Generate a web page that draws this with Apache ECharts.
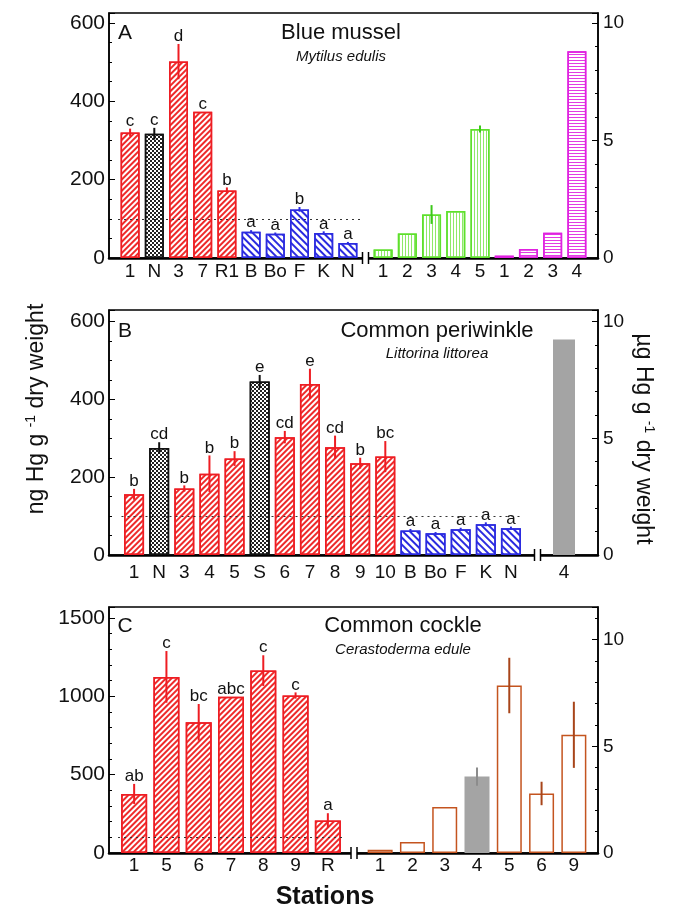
<!DOCTYPE html>
<html>
<head>
<meta charset="utf-8">
<script src="https://cdn.jsdelivr.net/npm/echarts@6/dist/echarts.min.js"></script>
<style>
  html, body { margin: 0; padding: 0; background: #fff; }
  #chart { width: 680px; height: 910px; }
</style>
</head>
<body>
<div id="chart"></div>
<script>
// A: blue mussel (ng/g on left part, ug/g on right part)
const aLeftCats = ['1', 'N', '3', '7', 'R1', 'B', 'Bo', 'F', 'K', 'N']
const aLeftVals = [320, 317, 501, 373, 172, 67, 62, 124, 64, 38]
const aLeftErr = [10, 15, 45, 0, 8, 4, 3, 6, 4, 3]
const aLeftSig = ['c', 'c', 'd', 'c', 'b', 'a', 'a', 'b', 'a', 'a']
const aLeftType = ['site', 'ref', 'site', 'site', 'site', 'far', 'far', 'far', 'far', 'far']
const aRightCats = ['1', '2', '3', '4', '5', '1', '2', '3', '4']
const aRightVals = [0.36, 1.04, 1.85, 2.0, 5.49, 0.1, 0.38, 1.07, 8.79]
const aRightErr = [0, 0, 0.4, 0, 0.15, 0, 0, 0, 0]
const aRightType = ['hotA', 'hotA', 'hotA', 'hotA', 'hotA', 'hotB', 'hotB', 'hotB', 'hotB']

// B: common periwinkle
const bLeftCats = ['1', 'N', '3', '4', '5', 'S', '6', '7', '8', '9', '10', 'B', 'Bo', 'F', 'K', 'N']
const bLeftVals = [156, 275, 171, 209, 248, 446, 303, 440, 277, 236, 253, 63, 56, 66, 79, 69]
const bLeftErr = [14, 15, 8, 47, 19, 17, 16, 39, 30, 14, 40, 4, 3, 4, 5, 4]
const bLeftSig = ['b', 'cd', 'b', 'b', 'b', 'e', 'cd', 'e', 'cd', 'b', 'bc', 'a', 'a', 'a', 'a', 'a']
const bLeftType = ['site', 'ref', 'site', 'site', 'site', 'ref', 'site', 'site', 'site', 'site', 'site', 'far', 'far', 'far', 'far', 'far']
const bRightCats = ['4']
const bRightVals = [9.24]
const bRightErr = [0]
const bRightType = ['gray']

// C: common cockle
const cLeftCats = ['1', '5', '6', '7', '8', '9', 'R']
const cLeftVals = [377, 1124, 834, 998, 1164, 1005, 208]
const cLeftErr = [64, 165, 117, 0, 98, 20, 46]
const cLeftSig = ['ab', 'c', 'bc', 'abc', 'c', 'c', 'a']
const cLeftType = ['site', 'site', 'site', 'site', 'site', 'site', 'site']
const cRightCats = ['1', '2', '3', '4', '5', '6', '9']
const cRightVals = [0.15, 0.52, 2.16, 3.58, 7.85, 2.79, 5.54]
const cRightErr = [0, 0, 0, 0.43, 1.3, 0.55, 1.55]
const cRightType = ['open', 'open', 'open', 'gray', 'open', 'open', 'open']

const FONT = 'Liberation Sans, Arial, Helvetica, sans-serif'

const typeStyle = {
  site: { fill: '#fff', border: '#ee1d23', err: '#ee1d23',
    decal: { symbol: 'rect', symbolSize: 1, color: '#ee2a2a', dashArrayX: [1, 0], dashArrayY: [1.3, 1.9], rotation: -Math.PI / 4 } },
  ref: { fill: '#fff', border: '#111', err: '#111',
    decal: { symbol: 'rect', symbolSize: 1, color: '#222', dashArrayX: [[2, 2], [0, 2, 2, 0]], dashArrayY: [2, 0] } },
  far: { fill: '#fff', border: '#2b2be0', err: '#2b2be0',
    decal: { symbol: 'rect', symbolSize: 1, color: '#2b2be0', dashArrayX: [1, 0], dashArrayY: [1.5, 2.5], rotation: Math.PI / 4 } },
  hotA: { fill: '#fff', border: '#5ee02c', err: '#3cc81a',
    decal: { symbol: 'rect', symbolSize: 1, color: '#8fe86a', dashArrayX: [1, 2], dashArrayY: [1, 0] } },
  hotB: { fill: '#fff', border: '#e021e0', err: '#e021e0',
    decal: { symbol: 'rect', symbolSize: 1, color: '#e33ce3', dashArrayX: [1, 0], dashArrayY: [1, 2] } },
  gray: { fill: '#a4a4a4', border: '#a4a4a4', err: '#8c8c8c', decal: null },
  open: { fill: '#fff', border: '#c4541f', err: '#a8451a', decal: null }
}

const panels = [
  {
    top: 13, height: 245, leftMax: 625, leftStep: 200, leftMinor: 4, rightMax: 10.42, rightStep: 5,
    labelMargin: 4, breakX: 365.5, refLine: 100,
    letter: 'A', title: 'Blue mussel', latin: 'Mytilus edulis', titleX: 341, titleY: 33, latinY: 57,
    L: { cats: aLeftCats, vals: aLeftVals, err: aLeftErr, sig: aLeftSig, type: aLeftType, left: 118, width: 242, barWidth: 19 },
    R: { cats: aRightCats, vals: aRightVals, err: aRightErr, sig: null, type: aRightType, left: 371, width: 218, barWidth: 19 }
  },
  {
    top: 310, height: 245, leftMax: 630, leftStep: 200, leftMinor: 4, rightMax: 10.5, rightStep: 5,
    labelMargin: 8, breakX: 537.5, refLine: 100,
    letter: 'B', title: 'Common periwinkle', latin: 'Littorina littorea', titleX: 437, titleY: 331, latinY: 354,
    L: { cats: bLeftCats, vals: bLeftVals, err: bLeftErr, sig: bLeftSig, type: bLeftType, left: 121.5, width: 402, barWidth: 20 },
    R: { cats: bRightCats, vals: bRightVals, err: bRightErr, sig: null, type: bRightType, left: 551.5, width: 25, barWidth: 22 }
  },
  {
    top: 607, height: 246, leftMax: 1570, leftStep: 500, leftMinor: 5, rightMax: 11.53, rightStep: 5,
    labelMargin: 3, breakX: 354, refLine: 100,
    letter: 'C', title: 'Common cockle', latin: 'Cerastoderma edule', titleX: 403, titleY: 626, latinY: 650,
    L: { cats: cLeftCats, vals: cLeftVals, err: cLeftErr, sig: cLeftSig, type: cLeftType, left: 118, width: 226, barWidth: 26 },
    R: { cats: cRightCats, vals: cRightVals, err: cRightErr, sig: null, type: cRightType, left: 364, width: 226, barWidth: 25 }
  }
]

const FRAME_LEFT = 109
const FRAME_WIDTH = 489

const grid = []
const xAxis = []
const yAxis = []
const series = []
const graphic = []

const tickFormatter = (step) => (v) => (Math.abs(v / step - Math.round(v / step)) < 1e-6 ? String(Math.round(v)) : '')

const frameY = (max, step, minor, pos, fontSize, margin) => ({
  type: 'value', position: pos, min: 0, max: max, interval: step,
  axisLine: { show: true, lineStyle: { color: '#000', width: 1.5 } },
  axisTick: { show: true, inside: true, length: 6, lineStyle: { color: '#000', width: 1 } },
  minorTick: { show: true, splitNumber: minor, length: 3, lineStyle: { color: '#000', width: 1 } },
  axisLabel: { color: '#111', fontSize: fontSize, fontFamily: FONT, margin: margin, formatter: tickFormatter(step) },
  splitLine: { show: false },
  minorSplitLine: { show: false }
})

const addPart = (part, p, side, withRef) => {
  const gi = grid.length
  grid.push({ left: part.left, width: part.width, top: p.top, height: p.height, outerBoundsMode: 'none' })
  xAxis.push({
    type: 'category', gridIndex: gi, data: part.cats,
    axisLine: { show: false }, axisTick: { show: false },
    axisLabel: { color: '#111', fontSize: 19, fontFamily: FONT, margin: p.labelMargin, interval: 0 }
  })
  const yi = yAxis.length
  yAxis.push({ type: 'value', gridIndex: gi, show: false, min: 0, max: side === 'L' ? p.leftMax : p.rightMax })
  const xi = xAxis.length - 1

  const types = [...new Set(part.type)]
  types.forEach((t, k) => {
    const st = typeStyle[t]
    const s = {
      type: 'bar', xAxisIndex: xi, yAxisIndex: yi,
      barWidth: part.barWidth, barGap: '-100%',
      data: part.vals.map((v, i) => (part.type[i] === t ? v : '-')),
      itemStyle: { color: st.fill, borderColor: st.border, borderWidth: 1.5 },
      emphasis: { disabled: true },
      z: 2
    }
    if (st.decal) s.itemStyle.decal = st.decal
    if (withRef && k === 0) {
      s.markLine = {
        silent: true, symbol: 'none', animation: false,
        label: { show: false },
        lineStyle: { type: [2, 4], color: '#333', width: 1.2 },
        data: [{ yAxis: p.refLine }]
      }
    }
    series.push(s)
  })

  series.push({
    type: 'custom', xAxisIndex: xi, yAxisIndex: yi, z: 4, silent: true,
    data: part.vals.map((v, i) => [i, v, part.err[i]]),
    renderItem: (params, api) => {
      const i = params.dataIndex
      const v = api.value(1)
      const e = api.value(2)
      const hi = api.coord([i, v + e])
      const lo = api.coord([i, Math.max(v - e, 0)])
      const children = []
      if (e > 0) {
        children.push({
          type: 'line',
          shape: { x1: hi[0], y1: hi[1], x2: lo[0], y2: lo[1] },
          style: { stroke: typeStyle[part.type[i]].err, lineWidth: 2 }
        })
      }
      if (part.sig && part.sig[i]) {
        children.push({
          type: 'text',
          style: {
            text: part.sig[i], x: hi[0], y: hi[1] + 1, align: 'center', verticalAlign: 'bottom',
            font: '17px ' + FONT, fill: '#111'
          }
        })
      }
      return { type: 'group', children: children }
    }
  })
}

panels.forEach((p) => {
  // frame grid carrying both value axes
  const fi = grid.length
  grid.push({
    left: FRAME_LEFT, width: FRAME_WIDTH, top: p.top, height: p.height,
    show: true, borderColor: '#000', borderWidth: 1.5, backgroundColor: 'transparent', outerBoundsMode: 'none'
  })
  xAxis.push({
    type: 'value', gridIndex: fi, min: 0, max: 1,
    axisLine: { show: true, onZero: false, lineStyle: { color: '#000', width: 2.5 } },
    axisTick: { show: false }, axisLabel: { show: false }, splitLine: { show: false }
  })
  yAxis.push(Object.assign(frameY(p.leftMax, p.leftStep, p.leftMinor, 'left', 21, 4), { gridIndex: fi }))
  yAxis.push(Object.assign(frameY(p.rightMax, p.rightStep, 5, 'right', 19, 5), { gridIndex: fi }))

  addPart(p.L, p, 'L', true)
  addPart(p.R, p, 'R', false)

  const base = p.top + p.height
  graphic.push(
    { type: 'rect', z: 100, shape: { x: p.breakX - 3, y: base - 3, width: 6, height: 6 }, style: { fill: '#fff' } },
    { type: 'line', z: 101, shape: { x1: p.breakX - 3, y1: base - 6, x2: p.breakX - 3, y2: base + 6 }, style: { stroke: '#000', lineWidth: 1.5 } },
    { type: 'line', z: 101, shape: { x1: p.breakX + 3, y1: base - 6, x2: p.breakX + 3, y2: base + 6 }, style: { stroke: '#000', lineWidth: 1.5 } },
    { type: 'text', z: 100, x: 125, y: p.titleY, style: { text: p.letter, font: '21px ' + FONT, fill: '#111', align: 'center', verticalAlign: 'middle' } },
    { type: 'text', z: 100, x: p.titleX, y: p.titleY, style: { text: p.title, font: '22px ' + FONT, fill: '#111', align: 'center', verticalAlign: 'middle' } },
    { type: 'text', z: 100, x: p.titleX, y: p.latinY, style: { text: p.latin, font: 'italic 15px ' + FONT, fill: '#111', align: 'center', verticalAlign: 'middle' } }
  )
})

graphic.push(
  {
    type: 'text', z: 100, x: 37, y: 409, rotation: Math.PI / 2,
    style: {
      text: 'ng Hg g {sup|-1} dry weight', font: '23px ' + FONT, fill: '#111', align: 'center', verticalAlign: 'middle',
      rich: { sup: { fontSize: 14, fontFamily: FONT, verticalAlign: 'top', lineHeight: 26, padding: [0, 0, 12, 0] } }
    }
  },
  {
    type: 'text', z: 100, x: 643, y: 439, rotation: -Math.PI / 2,
    style: {
      text: 'µg Hg g {sup|-1} dry weight', font: '23px ' + FONT, fill: '#111', align: 'center', verticalAlign: 'middle',
      rich: { sup: { fontSize: 14, fontFamily: FONT, verticalAlign: 'top', lineHeight: 26, padding: [0, 0, 12, 0] } }
    }
  },
  {
    type: 'text', z: 100, x: 325, y: 897,
    style: { text: 'Stations', font: 'bold 25px ' + FONT, fill: '#111', align: 'center', verticalAlign: 'middle' }
  }
)

const chart = echarts.init(document.getElementById('chart'), null, { renderer: 'canvas' })
chart.setOption({
  animation: false,
  backgroundColor: '#fff',
  textStyle: { fontFamily: FONT },
  grid: grid,
  xAxis: xAxis,
  yAxis: yAxis,
  series: series,
  graphic: graphic
})
</script>
</body>
</html>
